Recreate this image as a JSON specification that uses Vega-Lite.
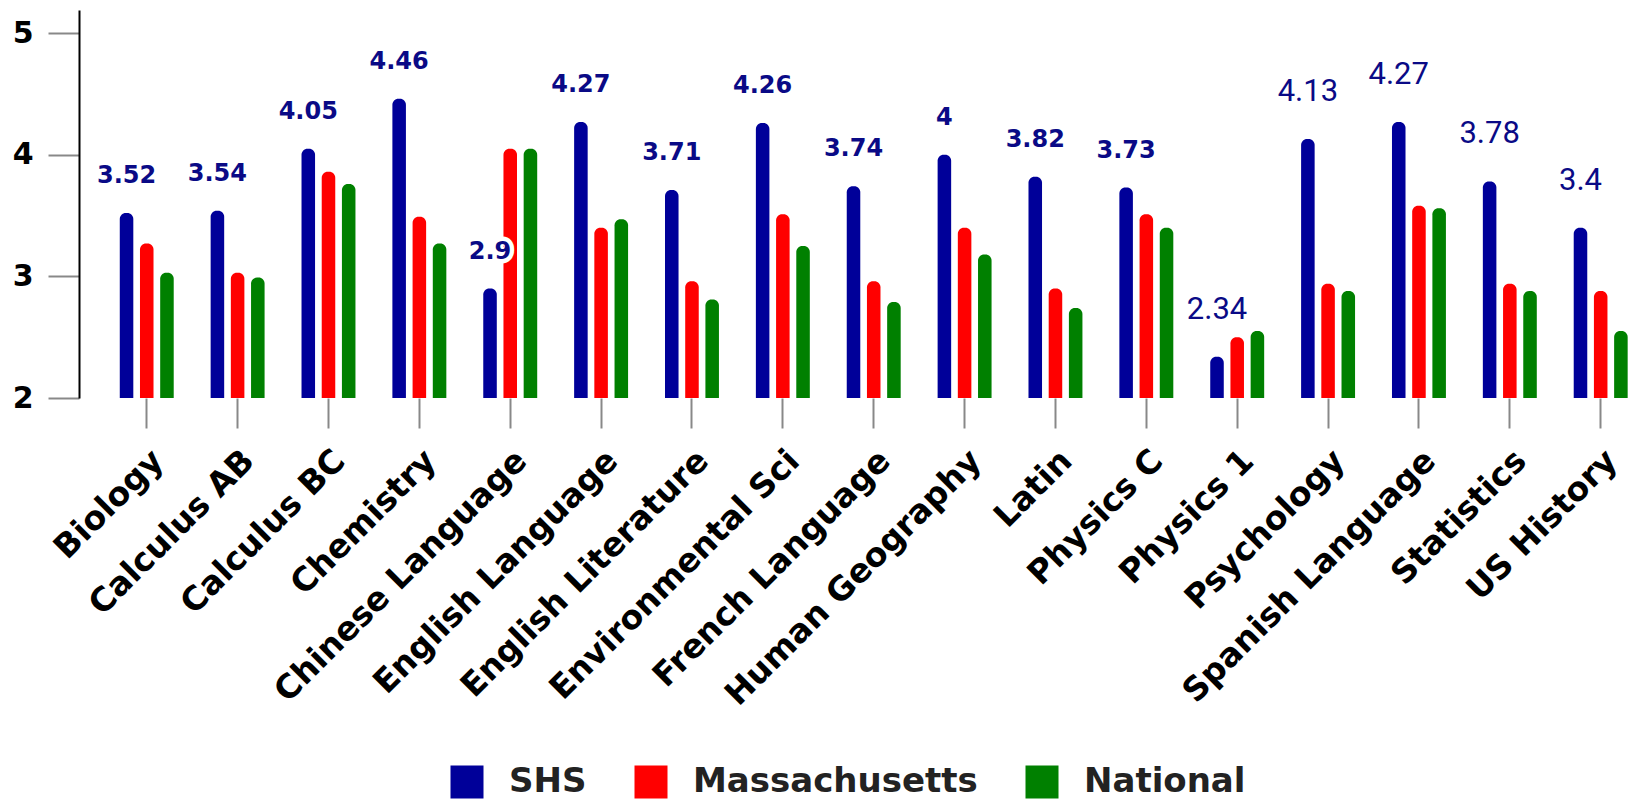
{
  "$schema": "https://vega.github.io/schema/vega-lite/v6.json",
  "width": 1552,
  "height": 388,
  "autosize": {"type": "none"},
  "padding": {"left": 79, "top": 10, "right": 0, "bottom": 402},
  "background": "white",
  "config": {"view": {"stroke": null}},
  "data": {
    "values": [
      {"subject": "Biology", "series": "SHS", "score": 3.52},
      {"subject": "Biology", "series": "Massachusetts", "score": 3.27},
      {"subject": "Biology", "series": "National", "score": 3.03},
      {"subject": "Calculus AB", "series": "SHS", "score": 3.54},
      {"subject": "Calculus AB", "series": "Massachusetts", "score": 3.03},
      {"subject": "Calculus AB", "series": "National", "score": 2.99},
      {"subject": "Calculus BC", "series": "SHS", "score": 4.05},
      {"subject": "Calculus BC", "series": "Massachusetts", "score": 3.86},
      {"subject": "Calculus BC", "series": "National", "score": 3.76},
      {"subject": "Chemistry", "series": "SHS", "score": 4.46},
      {"subject": "Chemistry", "series": "Massachusetts", "score": 3.49},
      {"subject": "Chemistry", "series": "National", "score": 3.27},
      {"subject": "Chinese Language", "series": "SHS", "score": 2.9},
      {"subject": "Chinese Language", "series": "Massachusetts", "score": 4.05},
      {"subject": "Chinese Language", "series": "National", "score": 4.05},
      {"subject": "English Language", "series": "SHS", "score": 4.27},
      {"subject": "English Language", "series": "Massachusetts", "score": 3.4},
      {"subject": "English Language", "series": "National", "score": 3.47},
      {"subject": "English Literature", "series": "SHS", "score": 3.71},
      {"subject": "English Literature", "series": "Massachusetts", "score": 2.96},
      {"subject": "English Literature", "series": "National", "score": 2.81},
      {"subject": "Environmental Sci", "series": "SHS", "score": 4.26},
      {"subject": "Environmental Sci", "series": "Massachusetts", "score": 3.51},
      {"subject": "Environmental Sci", "series": "National", "score": 3.25},
      {"subject": "French Language", "series": "SHS", "score": 3.74},
      {"subject": "French Language", "series": "Massachusetts", "score": 2.96},
      {"subject": "French Language", "series": "National", "score": 2.79},
      {"subject": "Human Geography", "series": "SHS", "score": 4},
      {"subject": "Human Geography", "series": "Massachusetts", "score": 3.4},
      {"subject": "Human Geography", "series": "National", "score": 3.18},
      {"subject": "Latin", "series": "SHS", "score": 3.82},
      {"subject": "Latin", "series": "Massachusetts", "score": 2.9},
      {"subject": "Latin", "series": "National", "score": 2.74},
      {"subject": "Physics C", "series": "SHS", "score": 3.73},
      {"subject": "Physics C", "series": "Massachusetts", "score": 3.51},
      {"subject": "Physics C", "series": "National", "score": 3.4},
      {"subject": "Physics 1", "series": "SHS", "score": 2.34},
      {"subject": "Physics 1", "series": "Massachusetts", "score": 2.5},
      {"subject": "Physics 1", "series": "National", "score": 2.55},
      {"subject": "Psychology", "series": "SHS", "score": 4.13},
      {"subject": "Psychology", "series": "Massachusetts", "score": 2.94},
      {"subject": "Psychology", "series": "National", "score": 2.88},
      {"subject": "Spanish Language", "series": "SHS", "score": 4.27},
      {"subject": "Spanish Language", "series": "Massachusetts", "score": 3.58},
      {"subject": "Spanish Language", "series": "National", "score": 3.56},
      {"subject": "Statistics", "series": "SHS", "score": 3.78},
      {"subject": "Statistics", "series": "Massachusetts", "score": 2.94},
      {"subject": "Statistics", "series": "National", "score": 2.88},
      {"subject": "US History", "series": "SHS", "score": 3.4},
      {"subject": "US History", "series": "Massachusetts", "score": 2.88},
      {"subject": "US History", "series": "National", "score": 2.55}
    ]
  },
  "encoding": {
    "x": {
      "field": "subject",
      "type": "nominal",
      "sort": null,
      "scale": {"paddingInner": 0.333, "paddingOuter": 0.206, "align": 1},
      "axis": {
        "title": null,
        "domain": false,
        "ticks": true,
        "tickColor": "#888888",
        "tickWidth": 2,
        "tickSize": 30,
        "labelAngle": -45,
        "labelFont": "DejaVu Sans",
        "labelFontWeight": "bold",
        "labelFontSize": 33,
        "labelColor": "black",
        "labelPadding": 16,
        "labelLimit": 0
      }
    },
    "xOffset": {
      "field": "series",
      "type": "nominal",
      "scale": {"domain": ["SHS", "Massachusetts", "National"], "paddingInner": 0.33, "paddingOuter": 0.165}
    },
    "y": {
      "field": "score",
      "type": "quantitative",
      "scale": {"domain": [2, 5.19], "nice": false, "zero": false},
      "axis": {
        "values": [2, 3, 4, 5],
        "title": null,
        "grid": false,
        "domainColor": "black",
        "domainWidth": 2,
        "tickColor": "#888888",
        "tickWidth": 2,
        "tickSize": 31,
        "labelFont": "DejaVu Sans",
        "labelFontWeight": "bold",
        "labelFontSize": 30,
        "labelColor": "black",
        "labelPadding": 15
      }
    }
  },
  "layer": [
    {
      "mark": {"type": "bar", "cornerRadiusTopLeft": 6, "cornerRadiusTopRight": 6},
      "encoding": {
        "y2": {"datum": 2},
        "color": {
          "field": "series",
          "type": "nominal",
          "scale": {"domain": ["SHS", "Massachusetts", "National"], "range": ["#000099", "#ff0000", "#008000"]},
          "legend": {
            "orient": "none",
            "legendX": 371,
            "legendY": 755,
            "direction": "horizontal",
            "title": null,
            "symbolType": "square",
            "symbolSize": 1089,
            "symbolStrokeWidth": 0,
            "symbolOpacity": 1,
            "labelFont": "DejaVu Sans",
            "labelFontWeight": "bold",
            "labelFontSize": 34,
            "labelColor": "#222222",
            "labelOffset": 25,
            "columnPadding": 47,
            "labelLimit": 0
          }
        }
      }
    },
    {
      "transform": [{"filter": "datum.series === 'SHS' && indexof(['Physics 1','Psychology','Spanish Language','Statistics','US History'], datum.subject) < 0"}],
      "mark": {"type": "text", "font": "DejaVu Sans", "fontWeight": "bold", "fontSize": 24, "dy": -30, "baseline": "alphabetic", "color": "white", "stroke": "white", "strokeWidth": 9, "strokeJoin": "round"},
      "encoding": {"text": {"field": "score", "type": "quantitative"}}
    },
    {
      "transform": [{"filter": "datum.series === 'SHS' && indexof(['Physics 1','Psychology','Spanish Language','Statistics','US History'], datum.subject) < 0"}],
      "mark": {"type": "text", "font": "DejaVu Sans", "fontWeight": "bold", "fontSize": 24, "dy": -30, "baseline": "alphabetic", "color": "#0a0a86"},
      "encoding": {"text": {"field": "score", "type": "quantitative"}}
    },
    {
      "transform": [{"filter": "datum.series === 'SHS' && indexof(['Physics 1','Psychology','Spanish Language','Statistics','US History'], datum.subject) >= 0"}],
      "mark": {"type": "text", "font": "Roboto", "fontSize": 31, "dy": -38, "baseline": "alphabetic", "color": "#0a0a86"},
      "encoding": {"text": {"field": "score", "type": "quantitative"}}
    }
  ]
}
